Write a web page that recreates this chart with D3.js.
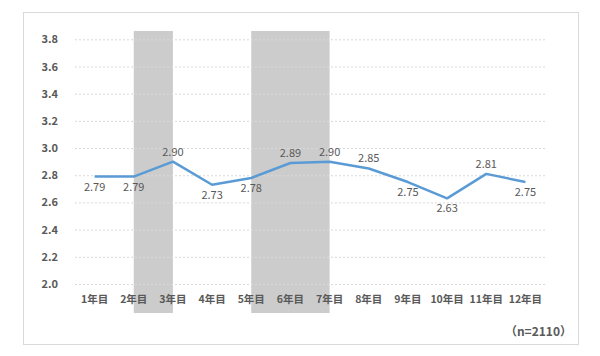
<!DOCTYPE html>
<html><head><meta charset="utf-8">
<script src="https://cdn.jsdelivr.net/npm/d3@7"></script>
<style>
body{margin:0;background:#fff;}
svg text{font-family:"Noto Sans CJK JP","Noto Sans",sans-serif;}
</style></head>
<body><svg id="c" width="600" height="356"></svg>
<script>
const categories = ["1年目","2年目","3年目","4年目","5年目","6年目","7年目","8年目","9年目","10年目","11年目","12年目"];
const values = [2.79,2.79,2.90,2.73,2.78,2.89,2.90,2.85,2.75,2.63,2.81,2.75];
const labelPos = ["below","below","above","below","below","above","above","above","below","below","above","below"];
const yTicks = [2.0,2.2,2.4,2.6,2.8,3.0,3.2,3.4,3.6,3.8];
const shadedRanges = [["2年目","3年目"],["5年目","7年目"]];
const note = "（n=2110）";

const svg = d3.select("#c");
svg.append("rect").attr("x",23.5).attr("y",12.5).attr("width",555).attr("height",332)
  .attr("fill","#fff").attr("stroke","#d9d9d9");

const x = d3.scaleBand().domain(categories).range([75,545]);
const cx = c => x(c) + x.bandwidth()/2;
const y = d3.scaleLinear().domain([2.0,3.8]).range([284,39.3]);

// shaded bands
svg.selectAll("rect.shade").data(shadedRanges).enter().append("rect")
  .attr("class","shade")
  .attr("x",d=>cx(d[0])).attr("width",d=>cx(d[1])-cx(d[0]))
  .attr("y",31).attr("height",282).attr("fill","#cccccc");

// gridlines
const yAxis = d3.axisLeft(y).tickValues(yTicks).tickFormat(d3.format(".1f")).tickSize(-470).tickPadding(17);
const gy = svg.append("g").attr("transform","translate(75,0)").call(yAxis);
gy.select(".domain").remove();
gy.selectAll(".tick line").attr("stroke","#d9d9d9").attr("stroke-dasharray","2,2");
gy.selectAll(".tick text").attr("fill","#595959").attr("font-size",11).attr("font-weight","bold");

const xAxis = d3.axisBottom(x).tickSize(0).tickPadding(0);
const gx = svg.append("g").attr("transform","translate(0,296)").call(xAxis);
gx.select(".domain").remove();
gx.selectAll(".tick text").attr("fill","#595959").attr("font-size",10.5).attr("font-weight","bold");

const line = d3.line().x((d,i)=>cx(categories[i])).y(d=>y(d));
svg.append("path").datum(values).attr("d",line).attr("fill","none")
  .attr("stroke","#5B9BD5").attr("stroke-width",2.5).attr("stroke-linejoin","round");

svg.selectAll("text.lbl").data(values).enter().append("text").attr("class","lbl")
  .attr("x",(d,i)=>cx(categories[i]))
  .attr("y",(d,i)=>labelPos[i]==="above"? y(d)-6 : y(d)+14)
  .attr("text-anchor","middle").attr("fill","#595959").attr("font-size",11)
  .text(d=>d.toFixed(2));

svg.append("text").attr("x",572).attr("y",336).attr("text-anchor","end")
  .attr("fill","#595959").attr("font-size",12).attr("font-weight","bold").text(note);
</script></body></html>
